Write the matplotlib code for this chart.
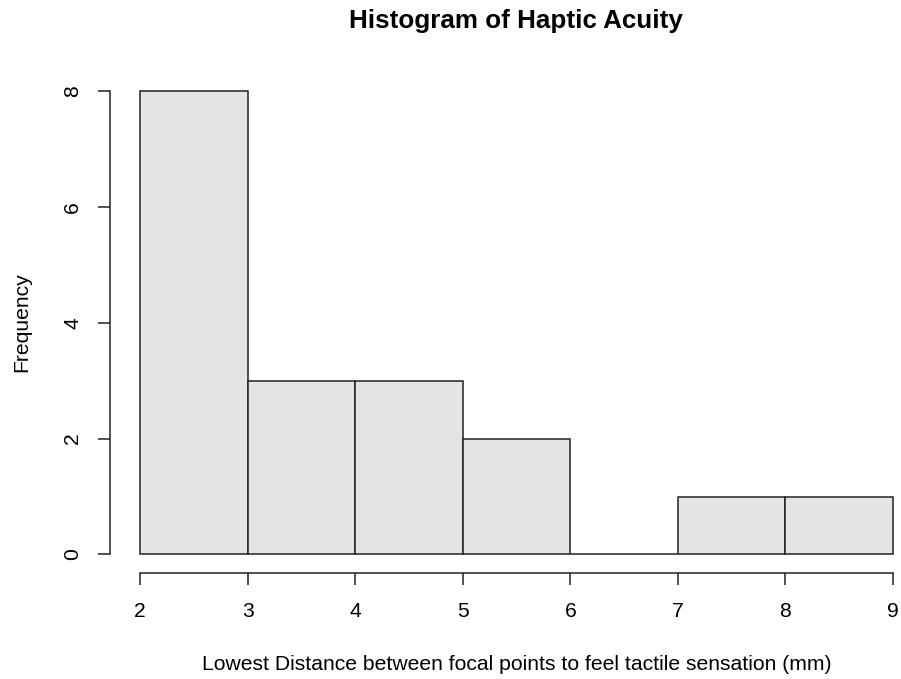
import numpy as np
import matplotlib
matplotlib.use("Agg")
import matplotlib.pyplot as plt

# Histogram of haptic acuity: bin edges (mm) and counts per bin
bin_edges = [2, 3, 4, 5, 6, 7, 8, 9]
counts = [8, 3, 3, 2, 0, 1, 1]
x_ticks = [2, 3, 4, 5, 6, 7, 8, 9]
y_ticks = [0, 2, 4, 6, 8]

plt.rcParams['font.family'] = ['Liberation Sans', 'DejaVu Sans']

W, H = 901, 679
fig = plt.figure(figsize=(W / 100, H / 100), dpi=100)

# plot region in pixels (R-style 4% padding around the data range)
left, right, top, bottom = 110, 923, 72.5, 573
ax = fig.add_axes([left / W, 1 - bottom / H, (right - left) / W, (bottom - top) / H])

edges = np.array(bin_edges, dtype=float)
ax.bar(edges[:-1], counts, width=np.diff(edges), align='edge',
       color='#e4e4e4', edgecolor='#222222', linewidth=1.1)

xr = edges[-1] - edges[0]
ax.set_xlim(edges[0] - 0.04 * xr, edges[-1] + 0.04 * xr)
ax.set_ylim(-0.04 * 8, 8 * 1.04)

for s in ['top', 'right']:
    ax.spines[s].set_visible(False)
ax.spines['left'].set_bounds(y_ticks[0], y_ticks[-1])
ax.spines['bottom'].set_bounds(x_ticks[0], x_ticks[-1])
for s in ['left', 'bottom']:
    ax.spines[s].set_linewidth(1.1)
    ax.spines[s].set_color('#222222')

ax.set_xticks(x_ticks)
ax.set_yticks(y_ticks)
ax.set_yticklabels([str(v) for v in y_ticks], rotation=90, va='center')
ax.tick_params(axis='both', direction='out', length=8.6, width=1.1,
               color='#222222', labelsize=15.2)
ax.tick_params(axis='x', pad=12.5)
ax.tick_params(axis='y', pad=11.5)

fig.text(516 / W, 1 - 21 / H, 'Histogram of Haptic Acuity', ha='center',
         va='center', fontsize=18.7, fontweight='bold')
fig.text(517 / W, 1 - 665 / H,
         'Lowest Distance between focal points to feel tactile sensation (mm)',
         ha='center', va='center', fontsize=15.2)
fig.text(22 / W, 1 - 322 / H, 'Frequency', ha='center', va='center',
         rotation=90, fontsize=15.2)

fig.savefig('out.png', dpi=100)
